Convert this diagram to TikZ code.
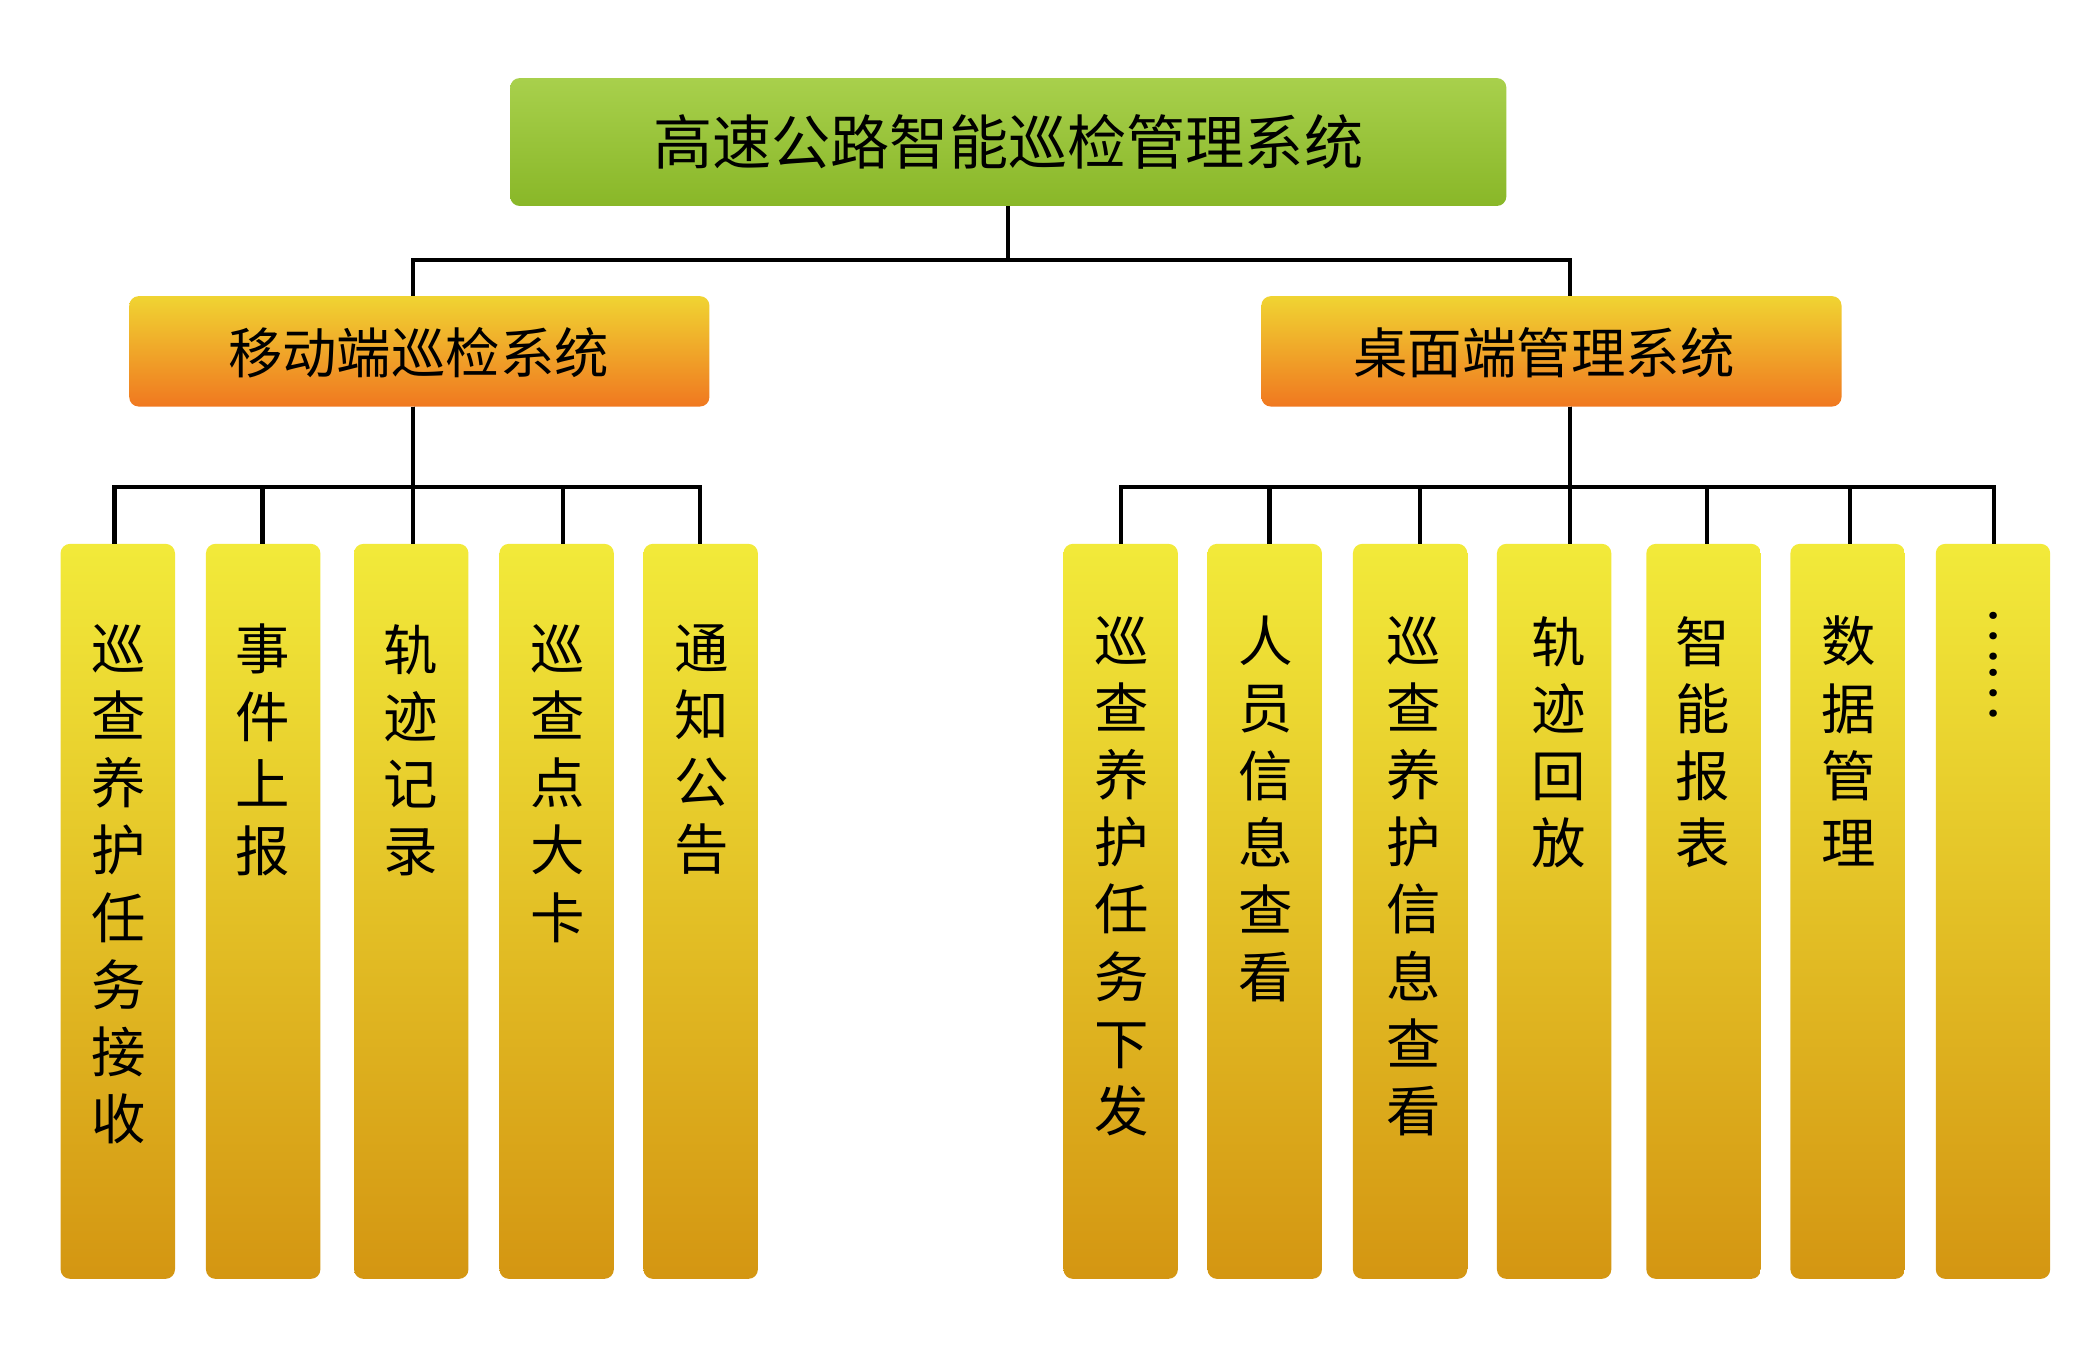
\documentclass[tikz,border=0pt]{standalone}
\usepackage{fontspec}
\setmainfont{Noto Sans CJK SC}
\begin{document}
\begin{tikzpicture}[x=0.01cm,y=-0.01cm,
 top/.style={rounded corners=2pt,top color=green!55!yellow!80!black!60,bottom color=green!50!yellow!70!black},
 mid/.style={rounded corners=2pt,top color=yellow!85!orange,bottom color=orange!90!red},
 leaf/.style={rounded corners=2pt,top color=yellow!90!orange!95!white,bottom color=orange!60!yellow!85!black},
 vt/.style={anchor=north,align=center,font=\fontsize{11.5}{14.2}\selectfont,inner sep=0pt},
 ln/.style={line width=0.9pt}]
\useasboundingbox (0,0) rectangle (1560,1003);
\shade[rounded corners=2pt,top color={rgb,255:red,168;green,208;blue,76},bottom color={rgb,255:red,137;green,183;blue,40}] (379,58) rectangle (1119,153);
\node[font=\fontsize{12.5}{15}\selectfont] (root) at (749,105) {高速公路智能巡检管理系统};
\coordinate (rb) at (749,153);
\shade[rounded corners=2pt,top color={rgb,255:red,240;green,212;blue,50},bottom color={rgb,255:red,240;green,120;blue,32}] (96,220) rectangle (527,302);
\shade[rounded corners=2pt,top color={rgb,255:red,240;green,212;blue,50},bottom color={rgb,255:red,240;green,120;blue,32}] (937,220) rectangle (1368,302);
\node[font=\fontsize{11.5}{14}\selectfont] (m1) at (311,262) {移动端巡检系统};
\node[font=\fontsize{11.5}{14}\selectfont] (m2) at (1147,262) {桌面端管理系统};
\coordinate (m1t) at (307,220); \coordinate (m1b) at (307,302);
\coordinate (m2t) at (1166,220); \coordinate (m2b) at (1166,302);
\draw[ln] (rb) -- (749,193) -| (m1t);
\draw[ln] (749,193) -| (m2t);
\foreach \l/\r/\c/\cx/\t [count=\i] in {45/130/85/88/巡\\查\\养\\护\\任\\务\\接\\收, 153/238/195/195/事\\件\\上\\报, 263/348/307/305/轨\\迹\\记\\录, 371/456/418/414/巡\\查\\点\\大\\卡, 478/563/520/521/通\\知\\公\\告}{
 \shade[rounded corners=2pt,top color={rgb,255:red,242;green,234;blue,58},bottom color={rgb,255:red,212;green,150;blue,18}] (\l,404) rectangle (\r,950);
 \node[vt] (L\i) at (\cx,463) {\t};
 \coordinate (Lt\i) at (\c,404);
 \draw[ln] (m1b) -- (307,362) -| (Lt\i);
}
\foreach \l/\r/\c/\cx/\t [count=\i] in {790/875/833/833/巡\\查\\养\\护\\任\\务\\下\\发, 897/982/943/940/人\\员\\信\\息\\查\\看, 1005/1090/1055/1050/巡\\查\\养\\护\\信\\息\\查\\看, 1112/1197/1166/1158/轨\\迹\\回\\放, 1223/1308/1268/1265/智\\能\\报\\表, 1330/1415/1374/1373/数\\据\\管\\理}{
 \shade[rounded corners=2pt,top color={rgb,255:red,242;green,234;blue,58},bottom color={rgb,255:red,212;green,150;blue,18}] (\l,404) rectangle (\r,950);
 \node[vt] (R\i) at (\cx,457) {\t};
 \coordinate (Rt\i) at (\c,404);
 \draw[ln] (m2b) -- (1166,362) -| (Rt\i);
}
\shade[rounded corners=2pt,top color={rgb,255:red,242;green,234;blue,58},bottom color={rgb,255:red,212;green,150;blue,18}] (1438,404) rectangle (1523,950);
\coordinate (Rt7) at (1481,404);
\draw[ln] (1166,362) -| (Rt7);
\node[font=\fontsize{11.5}{14}\selectfont,rotate=-90] (R7) at (1481,493) {……};
\end{tikzpicture}
\end{document}
